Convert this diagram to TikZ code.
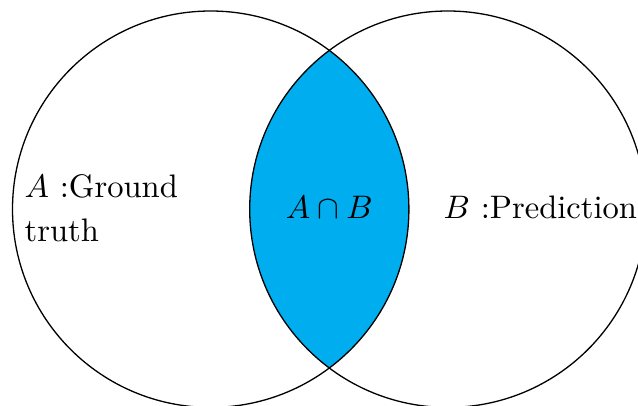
\documentclass[tikz,border=0pt]{standalone}
\usepackage{amsmath}
\definecolor{lens}{RGB}{0,173,239}
\begin{document}
\begin{tikzpicture}[x=0.307pt,y=-0.307pt,
  setcircle/.style={draw=black,line width=0.4pt},
  label/.style={inner sep=0pt,font=\fontsize{10}{13.6}\selectfont}]
\useasboundingbox (0,0) rectangle (638,406);
\coordinate (ca) at (210.7,209.2);
\coordinate (cb) at (447.9,209.2);
\begin{scope}
  \clip (ca) circle[radius=60.85pt];
  \fill[lens] (cb) circle[radius=60.85pt];
\end{scope}
\draw[setcircle] (ca) circle[radius=60.85pt];
\draw[setcircle] (cb) circle[radius=60.85pt];
\node[label,anchor=base west,text width=60pt,align=left] (ta) at (24,197.5) {$A$ :Ground truth};
\node[label,anchor=base] (tab) at (329.3,218) {$A\cap B$};
\node[label,anchor=base west] (tb) at (443,218) {$B$ :Prediction};
\end{tikzpicture}
\end{document}
